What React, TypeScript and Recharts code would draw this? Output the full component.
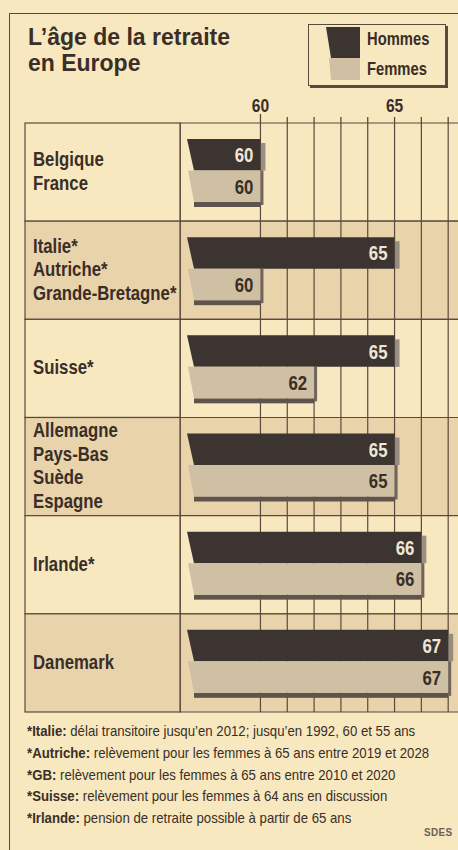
import React from 'react';
import { ComposedChart, Bar, XAxis, YAxis, CartesianGrid, ReferenceArea, LabelList, Legend } from 'recharts';

// ---------- data ----------
const categories = [
  'Belgique\nFrance',
  'Italie*\nAutriche*\nGrande-Bretagne*',
  'Suisse*',
  'Allemagne\nPays-Bas\nSuède\nEspagne',
  'Irlande*',
  'Danemark',
];
const hommes = [60, 65, 65, 65, 66, 67];
const femmes = [60, 60, 62, 65, 66, 67];
const seriesNames = ['Hommes', 'Femmes'];
const xTicks = [60, 61, 62, 63, 64, 65, 66, 67];
const xTickLabels = [60, 65];
const titleLines = ['L’âge de la retraite', 'en Europe'];
const footnotes = [
  ['*Italie:', ' délai transitoire jusqu’en 2012; jusqu’en 1992, 60 et 55 ans'],
  ['*Autriche:', ' relèvement pour les femmes à 65 ans entre 2019 et 2028'],
  ['*GB:', ' relèvement pour les femmes à 65 ans entre 2010 et 2020'],
  ['*Suisse:', ' relèvement pour les femmes à 64 ans en discussion'],
  ['*Irlande:', ' pension de retraite possible à partir de 65 ans'],
];
const sourceLabel = 'SDES';

const data = categories.map((group, i) => ({ group, hommes: hommes[i], femmes: femmes[i] }));

// ---------- style ----------
const BG = '#f7e8c0';
const TAN = '#e8d3ab';
const INK = '#3a2e27';
const GRID = '#5a4a3d';
const DARK = '#3b3431';
const LIGHT = '#cfbfa3';
const SANS = "'Liberation Sans', Arial, sans-serif";
const SQ = 0.82; // horizontal squeeze for the condensed face

const NarrowText = ({ x, y, anchor = 'start', size, weight = 'bold', fill = INK, squeeze = SQ, children }: any) => (
  <g transform={`translate(${x} ${y}) scale(${squeeze} 1)`}>
    <text x={0} y={0} textAnchor={anchor} fontFamily={SANS} fontWeight={weight} fontSize={size} fill={fill}>
      {children}
    </text>
  </g>
);

const XTick = (props: any) => {
  const { x, y, payload } = props;
  const v = payload.value;
  return (
    <g>
      <line x1={x} x2={x} y1={y - (v === xTickLabels[0] ? 9 : 6)} y2={y} stroke={GRID} strokeWidth={1.3} />
      {xTickLabels.includes(v) && (
        <NarrowText x={x} y={y - 11} anchor="middle" size={19}>
          {v}
        </NarrowText>
      )}
    </g>
  );
};

const YTick = (props: any) => {
  const { x, y, payload } = props;
  const idx = payload.index ?? props.index ?? 0;
  const half = payload.offset || 49;
  const lines = String(payload.value).split('\n');
  const shaded = idx % 2 === 1;
  return (
    <g>
      <rect x={x - 155} y={y - half} width={155} height={half * 2} fill={shaded ? TAN : BG} stroke={GRID} strokeWidth={1.2} />
      {lines.map((l, i) => (
        <NarrowText key={i} x={x - 147} y={y + (i - (lines.length - 1) / 2) * 23.5 + 6} size={19.5} squeeze={0.86}>
          {l}
        </NarrowText>
      ))}
    </g>
  );
};

const DY = -2;

const HommesShape = (props: any) => {
  const { x, width, height } = props;
  const y = props.y + DY;
  const x0 = x + 7;
  const r = x + width;
  return (
    <g>
      <rect x={r} y={y + 4} width={5} height={height - 4} fill="#8a7f76" opacity={0.85} />
      <polygon points={`${x0},${y} ${r},${y} ${r},${y + height} ${x0 + 7},${y + height}`} fill={DARK} />
    </g>
  );
};

const FemmesShape = (props: any) => {
  const { x, width, height } = props;
  const y = props.y + DY;
  const x0 = x + 8;
  const r = x + width;
  return (
    <g>
      <rect x={x0 + 6} y={y + height} width={r - x0 - 6} height={5} fill="#5e544d" />
      <rect x={r} y={y} width={3} height={height + 3} fill="#6f655d" />
      <polygon points={`${x0},${y} ${r},${y} ${r},${y + height} ${x0 + 6},${y + height}`} fill={LIGHT} />
    </g>
  );
};

const makeBarLabel = (fill: string) => (props: any) => {
  const { x, y, width, height, value } = props;
  return (
    <NarrowText x={x + width - 7} y={y + DY + height / 2 + 7.5} anchor="end" size={20.5} fill={fill}>
      {value}
    </NarrowText>
  );
};

const LegendBox = (props: any) => {
  const payload = [...(props.payload || [])].sort(
    (a: any, b: any) => seriesNames.indexOf(a.value) - seriesNames.indexOf(b.value)
  );
  return (
    <div
      style={{
        width: 138,
        height: 62,
        boxSizing: 'border-box',
        border: `1.5px solid ${GRID}`,
        boxShadow: `2px 2px 0 ${GRID}`,
        background: BG,
        position: 'relative',
      }}
    >
      <svg width={40} height={58} style={{ position: 'absolute', left: 17, top: 1 }}>
        <polygon points="0,1 34,1 34,32 5,32" fill={payload[0]?.color || DARK} />
        <polygon points="3,32 34,32 34,54 5,54" fill={payload[1]?.color || LIGHT} />
      </svg>
      {payload.map((p: any, i: number) => (
        <div
          key={i}
          style={{
            position: 'absolute',
            left: 58,
            top: 4 + i * 30,
            fontFamily: SANS,
            fontWeight: 'bold',
            fontSize: 18,
            lineHeight: '20px',
            color: INK,
            whiteSpace: 'nowrap',
            transform: `scaleX(${SQ})`,
            transformOrigin: 'left top',
          }}
        >
          {p.value}
        </div>
      ))}
    </div>
  );
};

export default function App() {
  const W = 480;
  return (
    <div style={{ position: 'relative', width: 458, height: 850, overflow: 'hidden', background: BG }}>
      <style>{`html,body{margin:0;padding:0;background:${BG};overflow:hidden}`}</style>
      <div
        style={{
          position: 'absolute',
          left: 9,
          top: 13,
          width: 470,
          height: 860,
          borderLeft: `1.5px solid ${GRID}`,
          borderTop: `1.5px solid ${GRID}`,
        }}
      />
      <div
        style={{
          position: 'absolute',
          left: 28,
          top: 24,
          fontFamily: SANS,
          fontWeight: 'bold',
          fontSize: 23,
          lineHeight: '26px',
          color: INK,
        }}
      >
        {titleLines.map((t, i) => (
          <div key={i}>{t}</div>
        ))}
      </div>
      <div style={{ position: 'absolute', left: 0, top: 0 }}>
        <ComposedChart
          width={W}
          height={850}
          data={data}
          layout="vertical"
          margin={{ top: 93, right: 5, bottom: 138, left: 0 }}
          barGap={0}
        >
          {categories.map((c, i) => (
            <ReferenceArea
              key={c}
              y1={c}
              y2={c}
              fill={i % 2 === 1 ? TAN : BG}
              fillOpacity={1}
              stroke={GRID}
              strokeWidth={1.2}
              zIndex={-200}
            />
          ))}
          <CartesianGrid horizontal={false} stroke={GRID} strokeWidth={1.2} strokeOpacity={1} zIndex={-100} />
          <XAxis
            type="number"
            orientation="top"
            domain={[57, 68]}
            allowDataOverflow
            ticks={xTicks}
            interval={0}
            height={30}
            axisLine={false}
            tickLine={false}
            tickSize={0}
            tickMargin={0}
            tick={<XTick />}
          />
          <YAxis
            type="category"
            dataKey="group"
            width={180}
            axisLine={false}
            tickLine={false}
            tickSize={0}
            tickMargin={0}
            interval={0}
            tick={<YTick />}
          />
          <Legend
            layout="horizontal"
            verticalAlign="middle"
            align="center"
            wrapperStyle={{ left: 308, top: 24, width: 138, height: 62 }}
            content={<LegendBox />}
          />
          <Bar dataKey="hommes" name={seriesNames[0]} fill={DARK} barSize={31.5} shape={<HommesShape />} isAnimationActive={false}>
            <LabelList dataKey="hommes" content={makeBarLabel('#efe7d6')} />
          </Bar>
          <Bar dataKey="femmes" name={seriesNames[1]} fill={LIGHT} barSize={31.5} shape={<FemmesShape />} isAnimationActive={false}>
            <LabelList dataKey="femmes" content={makeBarLabel(INK)} />
          </Bar>
        </ComposedChart>
      </div>
      <div
        style={{
          position: 'absolute',
          left: 27,
          top: 720,
          fontFamily: SANS,
          fontSize: 15,
          lineHeight: '21.8px',
          color: INK,
          whiteSpace: 'nowrap',
        }}
      >
        {footnotes.map(([b, t], i) => (
          <div key={i} style={{ transform: 'scaleX(0.88)', transformOrigin: 'left top' }}>
            <b>{b}</b>
            {t}
          </div>
        ))}
      </div>
      <div
        style={{
          position: 'absolute',
          left: 424,
          top: 827,
          fontFamily: SANS,
          fontWeight: 'bold',
          fontSize: 10,
          color: '#6d6258',
          letterSpacing: 0.3,
        }}
      >
        {sourceLabel}
      </div>
    </div>
  );
}
